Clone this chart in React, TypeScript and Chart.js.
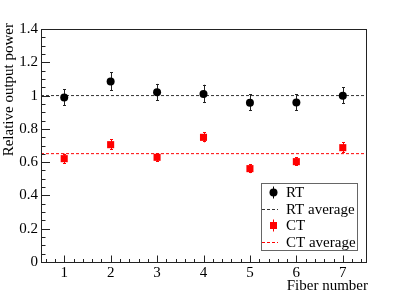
import React, { useEffect, useRef } from "react";
import { Chart, registerables } from "chart.js";

Chart.register(...registerables);

const FIBERS = [1, 2, 3, 4, 5, 6, 7];
const RT_VALUES = [0.988, 1.084, 1.02, 1.01, 0.957, 0.958, 0.999];
const RT_ERRORS = [0.05, 0.055, 0.05, 0.055, 0.05, 0.05, 0.05];
const CT_VALUES = [0.621, 0.705, 0.629, 0.749, 0.561, 0.603, 0.687];
const CT_ERRORS = [0.03, 0.032, 0.026, 0.03, 0.027, 0.026, 0.032];
const RT_AVERAGE = 1.0;
const CT_AVERAGE = 0.651;
const X_MIN = 0.5;
const X_MAX = 7.5;
const Y_MIN = 0;
const Y_MAX = 1.4;
const X_TICKS = [1, 2, 3, 4, 5, 6, 7];
const X_TICK_LABELS = ["1", "2", "3", "4", "5", "6", "7"];
const Y_TICKS = [0, 0.2, 0.4, 0.6, 0.8, 1.0, 1.2, 1.4];
const Y_TICK_LABELS = ["0", "0.2", "0.4", "0.6", "0.8", "1", "1.2", "1.4"];
const X_TITLE = "Fiber number";
const Y_TITLE = "Relative output power";
const SERIES_LABELS = ["RT", "RT average", "CT", "CT average"];

const FONT = '"Liberation Serif", "Times New Roman", serif';
const RED = "#ff0000";

const rootStyle = {
  id: "rootStyle",
  beforeDatasetsDraw(chart: any) {
    const { ctx, scales } = chart;
    const x = scales.x;
    const y = scales.y;
    chart.data.datasets.forEach((ds: any) => {
      if (!ds.errors) return;
      ctx.save();
      ctx.strokeStyle = ds.errorColor;
      ctx.lineWidth = 1;
      ds.data.forEach((p: any, j: number) => {
        const px = Math.round(x.getPixelForValue(p.x)) + 0.5;
        const y1 = y.getPixelForValue(p.y + ds.errors[j]);
        const y2 = y.getPixelForValue(p.y - ds.errors[j]);
        ctx.beginPath();
        ctx.moveTo(px, y1);
        ctx.lineTo(px, y2);
        ctx.moveTo(px - 1.5, Math.round(y1) + 0.5);
        ctx.lineTo(px + 1.5, Math.round(y1) + 0.5);
        ctx.moveTo(px - 1.5, Math.round(y2) - 0.5);
        ctx.lineTo(px + 1.5, Math.round(y2) - 0.5);
        ctx.stroke();
      });
      ctx.restore();
    });
  },
  afterDraw(chart: any) {
    const { ctx, chartArea: a, scales } = chart;
    const x = scales.x;
    const y = scales.y;
    ctx.save();
    // frame
    ctx.strokeStyle = "#222";
    ctx.lineWidth = 1;
    ctx.strokeRect(a.left + 0.5, a.top + 0.5, a.right - a.left, a.bottom - a.top);
    // y ticks
    ctx.beginPath();
    for (let i = 0; i <= 28; i++) {
      const v = Y_MIN + (i * (Y_MAX - Y_MIN)) / 28;
      const py = Math.round(y.getPixelForValue(v)) + 0.5;
      const len = i % 4 === 0 ? 9 : 4.5;
      ctx.moveTo(a.left, py);
      ctx.lineTo(a.left + len, py);
    }
    // x ticks
    for (let i = 0; i <= 34; i++) {
      const v = 0.6 + i * 0.2;
      const isMajor = Math.abs(v - Math.round(v)) < 1e-6;
      const px = Math.round(x.getPixelForValue(v)) + 0.5;
      const len = isMajor ? 7 : 3.5;
      ctx.moveTo(px, a.bottom + 0.5);
      ctx.lineTo(px, a.bottom + 0.5 - len);
    }
    ctx.stroke();

    // titles
    ctx.fillStyle = "#000";
    ctx.font = `15px ${FONT}`;
    ctx.textAlign = "right";
    ctx.textBaseline = "alphabetic";
    ctx.fillText(X_TITLE, a.right + 2, 290);
    ctx.save();
    ctx.translate(13, a.top - 6);
    ctx.rotate(-Math.PI / 2);
    ctx.textAlign = "right";
    ctx.fillText(Y_TITLE, 0, 0);
    ctx.restore();

    // legend
    const lx = 261.5;
    const ly = 183.5;
    ctx.fillStyle = "#fff";
    ctx.fillRect(lx, ly, 96, 67);
    ctx.strokeStyle = "#666";
    ctx.strokeRect(lx, ly, 96, 67);
    const rows = [192.5, 209, 225.5, 242];
    const mx = 273.5;
    ctx.textAlign = "left";
    ctx.textBaseline = "middle";
    rows.forEach((ry, i) => {
      const label = SERIES_LABELS[i];
      if (i === 0 || i === 2) {
        const col = i === 0 ? "#000" : RED;
        ctx.strokeStyle = col;
        ctx.beginPath();
        ctx.moveTo(mx, ry - 6);
        ctx.lineTo(mx, ry + 6);
        ctx.stroke();
        ctx.fillStyle = col;
        if (i === 0) {
          ctx.beginPath();
          ctx.arc(mx, ry, 4, 0, Math.PI * 2);
          ctx.fill();
        } else {
          ctx.fillRect(mx - 3.5, ry - 3.5, 7, 7);
        }
      } else {
        ctx.strokeStyle = i === 1 ? "#333" : RED;
        ctx.setLineDash([3, 2]);
        ctx.beginPath();
        ctx.moveTo(262, Math.round(ry) + 0.5);
        ctx.lineTo(278, Math.round(ry) + 0.5);
        ctx.stroke();
        ctx.setLineDash([]);
      }
      ctx.fillStyle = "#000";
      ctx.fillText(label, 286, ry + 1);
    });
    ctx.restore();
  },
};

export default function App() {
  const ref = useRef<HTMLCanvasElement | null>(null);

  useEffect(() => {
    if (!ref.current) return;
    const chart = new Chart(ref.current, {
      type: "scatter",
      data: {
        datasets: [
          {
            label: SERIES_LABELS[0],
            data: FIBERS.map((f, i) => ({ x: f, y: RT_VALUES[i] })),
            errors: RT_ERRORS,
            errorColor: "#222",
            pointStyle: "circle",
            pointRadius: 4,
            pointBackgroundColor: "#000",
            pointBorderWidth: 0,
            showLine: false,
          } as any,
          {
            label: SERIES_LABELS[2],
            data: FIBERS.map((f, i) => ({ x: f, y: CT_VALUES[i] })),
            errors: CT_ERRORS,
            errorColor: RED,
            pointStyle: "rect",
            pointRadius: 5,
            pointBackgroundColor: RED,
            pointBorderWidth: 0,
            showLine: false,
          } as any,
          {
            type: "line",
            label: SERIES_LABELS[1],
            data: [
              { x: X_MIN, y: RT_AVERAGE },
              { x: X_MAX, y: RT_AVERAGE },
            ],
            borderColor: "#333",
            borderWidth: 1,
            borderDash: [3, 2],
            pointRadius: 0,
            showLine: true,
          } as any,
          {
            type: "line",
            label: SERIES_LABELS[3],
            data: [
              { x: X_MIN, y: CT_AVERAGE },
              { x: X_MAX, y: CT_AVERAGE },
            ],
            borderColor: RED,
            borderWidth: 1,
            borderDash: [3, 2],
            pointRadius: 0,
            showLine: true,
          } as any,
        ],
      },
      options: {
        animation: false,
        responsive: false,
        devicePixelRatio: 1,
        layout: { padding: { top: 29, right: 41, left: 0, bottom: 0 } },
        plugins: {
          legend: { display: false },
          tooltip: { enabled: false },
        },
        scales: {
          x: {
            type: "linear",
            min: X_MIN,
            max: X_MAX,
            grid: { display: false, drawTicks: false },
            border: { display: false },
            afterBuildTicks: (s: any) => {
              s.ticks = X_TICKS.map((v) => ({ value: v }));
            },
            afterFit: (s: any) => {
              s.height = 29;
            },
            ticks: {
              autoSkip: false,
              maxRotation: 0,
              padding: 2,
              color: "#000",
              font: { family: FONT, size: 15 },
              callback: (_v: any, i: number) => X_TICK_LABELS[i],
            },
          },
          y: {
            type: "linear",
            min: Y_MIN,
            max: Y_MAX,
            grid: { display: false, drawTicks: false },
            border: { display: false },
            afterBuildTicks: (s: any) => {
              s.ticks = Y_TICKS.map((v) => ({ value: v }));
            },
            afterFit: (s: any) => {
              s.width = 41;
            },
            ticks: {
              autoSkip: false,
              padding: 3,
              color: "#000",
              font: { family: FONT, size: 15 },
              callback: (_v: any, i: number) => Y_TICK_LABELS[i],
            },
          },
        },
      } as any,
      plugins: [rootStyle],
    });
    return () => chart.destroy();
  }, []);

  return (
    <canvas
      ref={ref}
      width={407}
      height={291}
      style={{ position: "absolute", left: 0, top: 0, width: 407, height: 291 }}
    />
  );
}
